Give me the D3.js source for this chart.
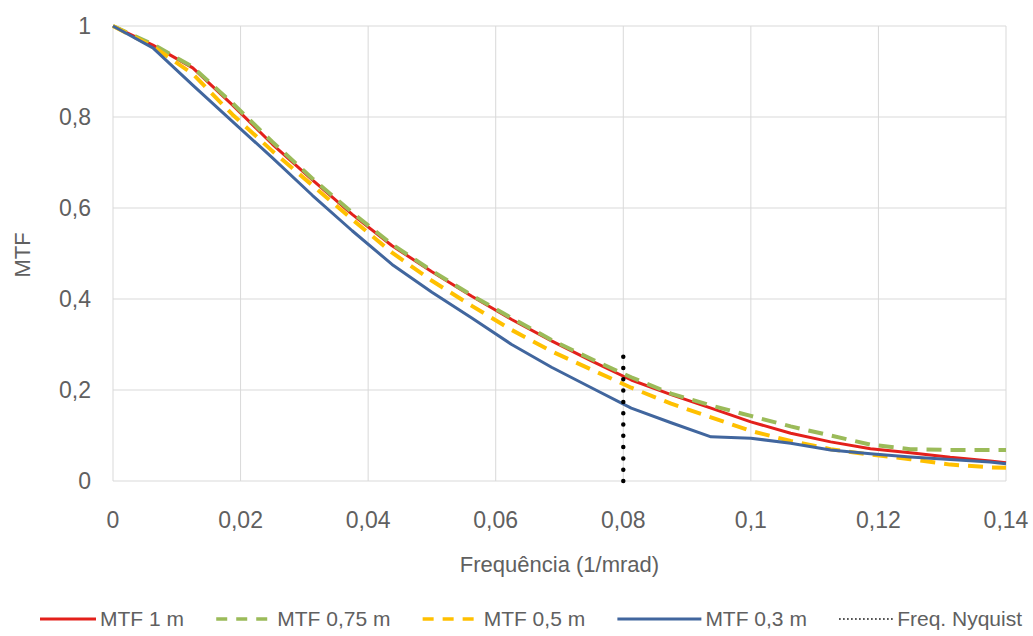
<!DOCTYPE html>
<html>
<head>
<meta charset="utf-8">
<script src="https://cdn.jsdelivr.net/npm/d3@7"></script>
<style>
  body { margin: 0; background: #fff; }
  text { font-family: "Liberation Sans", Arial, sans-serif; fill: #606060; }
</style>
</head>
<body>
<div id="canvas"></div>
<script>
// frequency samples (1/mrad)
var freq = [0, 0.00625, 0.0125, 0.01875, 0.025, 0.03125, 0.0375, 0.04375, 0.05, 0.05625,
            0.0625, 0.06875, 0.075, 0.08125, 0.0875, 0.09375, 0.1, 0.10625, 0.1125,
            0.11875, 0.125, 0.13125, 0.1375, 0.14];

var mtf1   = [1, 0.958, 0.908, 0.826, 0.74, 0.662, 0.586, 0.517, 0.46, 0.406, 0.355, 0.308,
              0.264, 0.222, 0.19, 0.16, 0.13, 0.105, 0.086, 0.071, 0.062, 0.052, 0.044, 0.04];
var mtf075 = [1, 0.96, 0.91, 0.83, 0.745, 0.665, 0.59, 0.52, 0.462, 0.408, 0.358, 0.31,
              0.268, 0.228, 0.192, 0.166, 0.143, 0.12, 0.1, 0.08, 0.07, 0.068, 0.068, 0.068];
var mtf05  = [1, 0.955, 0.895, 0.805, 0.725, 0.65, 0.575, 0.502, 0.44, 0.385, 0.332, 0.285,
              0.245, 0.205, 0.17, 0.14, 0.11, 0.088, 0.07, 0.058, 0.048, 0.036, 0.03, 0.029];
var mtf03  = [1, 0.952, 0.87, 0.79, 0.71, 0.628, 0.55, 0.476, 0.415, 0.358, 0.3, 0.25,
              0.205, 0.16, 0.128, 0.097, 0.094, 0.083, 0.068, 0.06, 0.053, 0.047, 0.042, 0.038];

var nyquistX = [0.08, 0.08];
var nyquistY = [0, 0.28];

var xTicks = [0, 0.02, 0.04, 0.06, 0.08, 0.1, 0.12, 0.14];
var yTicks = [0, 0.2, 0.4, 0.6, 0.8, 1];

var series = [
  {name: 'MTF 1 m',    values: mtf1,   color: '#E3201B', width: 3, dash: null},
  {name: 'MTF 0,75 m', values: mtf075, color: '#9BBB59', width: 4, dash: '15,9'},
  {name: 'MTF 0,5 m',  values: mtf05,  color: '#FFC000', width: 4, dash: '15,9'},
  {name: 'MTF 0,3 m',  values: mtf03,  color: '#41669E', width: 3, dash: null}
];

var W = 1033, H = 636;
var m = {t: 26, r: 27, b: 155, l: 113},
    w = W - m.l - m.r,
    h = H - m.t - m.b;

var svg = d3.select('#canvas').append('svg')
    .attr('width', W).attr('height', H);

var plot = svg.append('g').attr('transform', 'translate(' + m.l + ',' + m.t + ')');

var x = d3.scaleLinear().domain([0, 0.14]).range([0, w]);
var y = d3.scaleLinear().domain([0, 1]).range([h, 0]);

var fmt = function(v){ return d3.format('~g')(+v.toFixed(2)).replace('.', ','); };

// gridlines
plot.selectAll('.gx').data(xTicks).enter().append('line')
    .attr('x1', d => x(d)).attr('x2', d => x(d))
    .attr('y1', 0).attr('y2', h)
    .attr('stroke', '#d9d9d9').attr('stroke-width', 1);
plot.selectAll('.gy').data(yTicks).enter().append('line')
    .attr('x1', 0).attr('x2', w)
    .attr('y1', d => y(d)).attr('y2', d => y(d))
    .attr('stroke', '#d9d9d9').attr('stroke-width', 1);

// tick labels
plot.selectAll('.tx').data(xTicks).enter().append('text')
    .attr('x', d => x(d)).attr('y', h + 47)
    .attr('text-anchor', 'middle').style('font-size', '23px')
    .text(fmt);
plot.selectAll('.ty').data(yTicks).enter().append('text')
    .attr('x', -22).attr('y', d => y(d) + 8)
    .attr('text-anchor', 'end').style('font-size', '23px')
    .text(fmt);

// axis titles
svg.append('text').attr('x', m.l + w / 2).attr('y', 572)
    .attr('text-anchor', 'middle').style('font-size', '22px')
    .text('Frequência (1/mrad)');
svg.append('text').attr('transform', 'translate(30,255) rotate(-90)')
    .attr('text-anchor', 'middle').style('font-size', '22px')
    .text('MTF');

// lines
var line = d3.line()
    .x(function(d, i){ return x(freq[i]); })
    .y(function(d){ return y(d); });

series.forEach(function(s){
    plot.append('path')
        .datum(s.values)
        .attr('d', line)
        .attr('fill', 'none')
        .attr('stroke', s.color)
        .attr('stroke-width', s.width)
        .attr('stroke-dasharray', s.dash)
        .attr('stroke-linejoin', 'round');
});

// nyquist marker
plot.append('line')
    .attr('x1', x(nyquistX[0])).attr('x2', x(nyquistX[1]))
    .attr('y1', y(nyquistY[0])).attr('y2', y(nyquistY[1]))
    .attr('stroke', '#000').attr('stroke-width', 4.5)
    .attr('stroke-linecap', 'round')
    .attr('stroke-dasharray', '0,11.3');

// legend, spread between 40 and 1022
var legend = [
  {name: 'MTF 1 m',       color: '#E3201B', dash: null,      width: 3,   len: 56},
  {name: 'MTF 0,75 m',    color: '#9BBB59', dash: '11,9',    width: 3.5, len: 57},
  {name: 'MTF 0,5 m',     color: '#FFC000', dash: '11,9',    width: 3.5, len: 57},
  {name: 'MTF 0,3 m',     color: '#41669E', dash: null,      width: 3,   len: 84},
  {name: 'Freq. Nyquist', color: '#000',    dash: '1.5,2.5', width: 1.5, len: 54}
];
var ly = 619, lx0 = 40, lx1 = 1022;
var lg = svg.selectAll('.lg').data(legend).enter().append('g');
var lt = lg.append('text')
    .attr('y', ly + 7)
    .style('font-size', '21px')
    .text(d => d.name);
var widths = [];
lt.each(function(){ widths.push(this.getComputedTextLength()); });
var used = d3.sum(legend, d => d.len + 4) + d3.sum(widths);
var gap = (lx1 - lx0 - used) / (legend.length - 1);
var cx = lx0;
legend.forEach(function(d, i){ d.x0 = cx; d.tx = cx + d.len + 4; cx = d.tx + widths[i] + gap; });
lt.attr('x', d => d.tx);
lg.append('line')
    .attr('x1', d => d.x0).attr('x2', d => d.x0 + d.len)
    .attr('y1', ly).attr('y2', ly)
    .attr('stroke', d => d.color).attr('stroke-width', d => d.width)
    .attr('stroke-dasharray', d => d.dash);
</script>
</body>
</html>
